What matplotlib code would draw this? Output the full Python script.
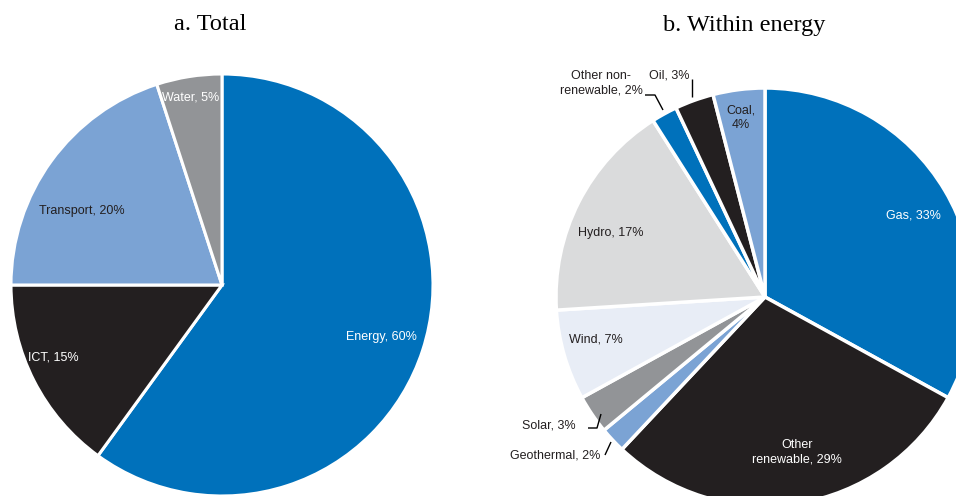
import numpy as np
import matplotlib
matplotlib.use("Agg")
from matplotlib import pyplot as plt

# a. Total
total_labels = ["Energy", "ICT", "Transport", "Water"]
total_shares = [60, 15, 20, 5]

# b. Within energy
energy_labels = ["Gas", "Other\nrenewable", "Geothermal", "Solar", "Wind", "Hydro",
                 "Other non-\nrenewable", "Oil", "Coal"]
energy_shares = [33, 29, 2, 3, 7, 17, 2, 3, 4]

BLUE = "#0071bb"
DARK = "#231f20"
LIGHTBLUE = "#7ba3d4"
GREY = "#929497"
LIGHTGREY = "#dadbdc"
PALE = "#e8edf6"

total_colors = [BLUE, DARK, LIGHTBLUE, GREY]
energy_colors = [BLUE, DARK, LIGHTBLUE, GREY, PALE, LIGHTGREY, BLUE, DARK, LIGHTBLUE]

W, H = 956, 496
fig = plt.figure(figsize=(W / 100, H / 100), dpi=100)
ax = fig.add_axes([0, 0, 1, 1])

sans = ["Liberation Sans", "DejaVu Sans"]
serif = ["Liberation Serif", "DejaVu Serif"]

c1 = (222, H - 285)
c2 = (765, H - 297)
r = 211

ax.pie(total_shares, colors=total_colors, startangle=90, counterclock=False,
       center=c1, radius=r, wedgeprops=dict(edgecolor="white", linewidth=2.2))
ax.pie(energy_shares, colors=energy_colors, startangle=90, counterclock=False,
       center=c2, radius=r - 2, wedgeprops=dict(edgecolor="white", linewidth=2.5))

ax.set_xlim(0, W)
ax.set_ylim(0, H)
ax.set_aspect("equal")
ax.axis("off")


def lab(x, y, s, color=DARK, ha="center"):
    ax.text(x, H - y, s, color=color, ha=ha, va="center", fontsize=9,
            family=sans, linespacing=1.3)


def pct(i, labels, shares):
    return f"{labels[i]}, {shares[i]}%"


# left pie labels
lab(381, 337, pct(0, total_labels, total_shares), color="white")
lab(53, 358, pct(1, total_labels, total_shares), color="white")
lab(82, 211, pct(2, total_labels, total_shares))
lab(191, 98, pct(3, total_labels, total_shares), color="white")

# right pie labels
lab(913, 216, pct(0, energy_labels, energy_shares), color="white")
lab(797, 452, pct(1, energy_labels, energy_shares), color="white")
lab(555, 455, pct(2, energy_labels, energy_shares))
lab(549, 425, pct(3, energy_labels, energy_shares))
lab(596, 340, pct(4, energy_labels, energy_shares))
lab(611, 233, pct(5, energy_labels, energy_shares))
lab(601, 83, pct(6, energy_labels, energy_shares))
lab(669, 75, pct(7, energy_labels, energy_shares))
lab(741, 118, f"{energy_labels[8]},\n{energy_shares[8]}%")

# leader lines
leaders = [
    [(645, 95), (655, 95), (663, 110)],
    [(692, 79), (692, 97)],
    [(588, 428), (597, 428), (601, 414)],
    [(605, 455), (611, 442)],
]
for pts in leaders:
    xs, ys = zip(*pts)
    ax.plot(xs, [H - y for y in ys], color="black", lw=1, solid_capstyle="butt")

ax.text(210, H - 25, "a. Total", ha="center", va="center", fontsize=17.5, family=serif)
ax.text(744, H - 25, "b. Within energy", ha="center", va="center", fontsize=17.5, family=serif)

fig.savefig("out.png", dpi=100)
